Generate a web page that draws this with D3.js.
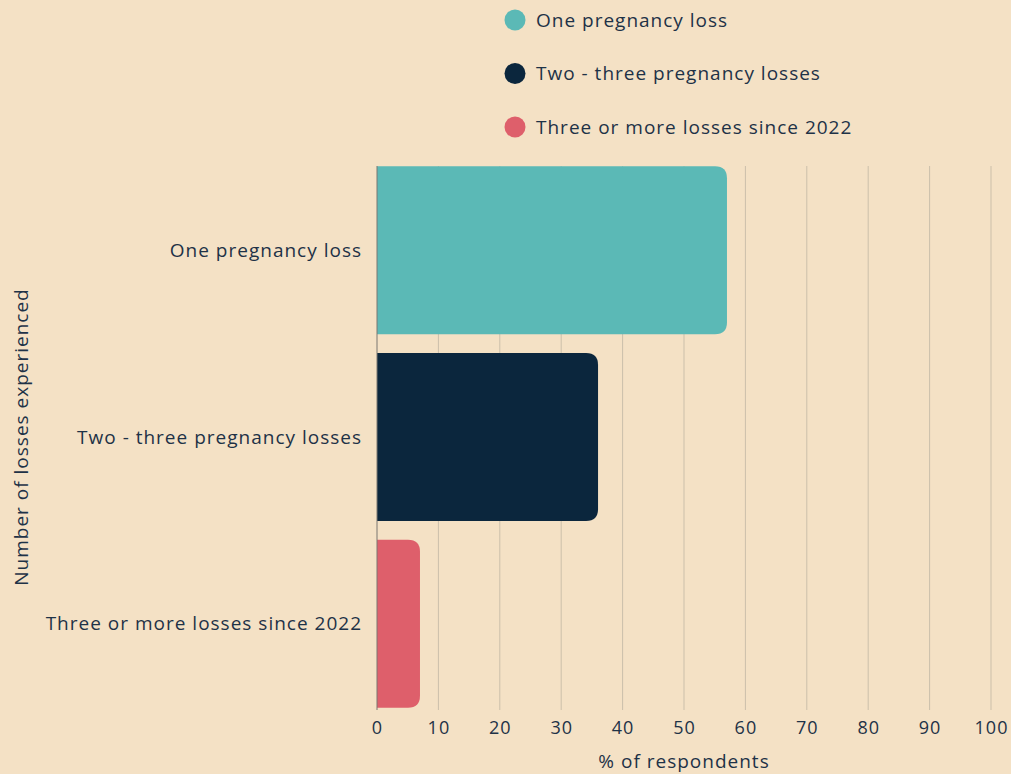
<!DOCTYPE html>
<html>
<head>
<meta charset="utf-8">
<script src="https://cdn.jsdelivr.net/npm/d3@7"></script>
<style>
  body { margin: 0; background: #f4e1c5; }
  svg { display: block; }
  text { font-family: "Open Sans", sans-serif; fill: #1e3247; letter-spacing: 1px; }
</style>
</head>
<body>
<svg id="chart" width="1011" height="774"></svg>
<script>
const categories = ["One pregnancy loss", "Two - three pregnancy losses", "Three or more losses since 2022"];
const values = [57, 36, 7];
const colors = ["#5bb9b6", "#0b263d", "#de5f6b"];
const xTicks = [0, 10, 20, 30, 40, 50, 60, 70, 80, 90, 100];

const svg = d3.select("#chart");
const width = 1011, height = 774;
svg.append("rect").attr("width", width).attr("height", height).attr("fill", "#f4e1c5");

const plotLeft = 377, plotRight = 991, plotTop = 157, plotBottom = 717;

const x = d3.scaleLinear().domain([0, 100]).range([plotLeft, plotRight]);
const y = d3.scaleBand().domain(categories).range([plotTop, plotBottom])
    .paddingInner(0.1).paddingOuter(0.05);

// gridlines
svg.append("g")
    .selectAll("line")
    .data(xTicks.slice(1))
    .join("line")
    .attr("x1", d => x(d)).attr("x2", d => x(d))
    .attr("y1", 166).attr("y2", 710)
    .attr("stroke", "#cbbfaa").attr("stroke-width", 1);

// bars with rounded right end
const r = 12;
svg.append("g")
    .selectAll("path")
    .data(categories)
    .join("path")
    .attr("fill", (d, i) => colors[i])
    .attr("d", (d, i) => {
        const x0 = x(0), x1 = x(values[i]);
        const y0 = y(d), h = y.bandwidth();
        const rr = Math.min(r, (x1 - x0) / 2);
        return `M${x0},${y0} H${x1 - rr} Q${x1},${y0} ${x1},${y0 + rr} V${y0 + h - rr} Q${x1},${y0 + h} ${x1 - rr},${y0 + h} H${x0} Z`;
    });

// y axis line
svg.append("line")
    .attr("x1", plotLeft).attr("x2", plotLeft)
    .attr("y1", 166).attr("y2", 710)
    .attr("stroke", "#7a7670").attr("stroke-width", 1);

// x tick labels
svg.append("g")
    .selectAll("text")
    .data(xTicks)
    .join("text")
    .attr("x", d => x(d) + 0.5)
    .attr("y", 734)
    .attr("text-anchor", "middle")
    .attr("font-size", 18)
    .text(d => d);

svg.append("text")
    .attr("x", (plotLeft + plotRight) / 2)
    .attr("y", 768)
    .attr("text-anchor", "middle")
    .attr("font-size", 19)
    .text("% of respondents");

// y category labels
svg.append("g")
    .selectAll("text")
    .data(categories)
    .join("text")
    .attr("x", 362)
    .attr("y", d => y(d) + y.bandwidth() / 2)
    .attr("dy", "0.35em")
    .attr("text-anchor", "end")
    .attr("font-size", 19)
    .text(d => d);

svg.append("text")
    .attr("transform", `translate(28,437) rotate(-90)`)
    .attr("text-anchor", "middle")
    .attr("font-size", 19)
    .text("Number of losses experienced");

// legend
const legend = svg.append("g")
    .selectAll("g")
    .data(categories)
    .join("g")
    .attr("transform", (d, i) => `translate(515,${20 + i * 53.5})`);

legend.append("circle").attr("r", 10.5).attr("fill", (d, i) => colors[i]);
legend.append("text")
    .attr("x", 21)
    .attr("dy", "0.35em")
    .attr("font-size", 19)
    .text(d => d);
</script>
</body>
</html>
